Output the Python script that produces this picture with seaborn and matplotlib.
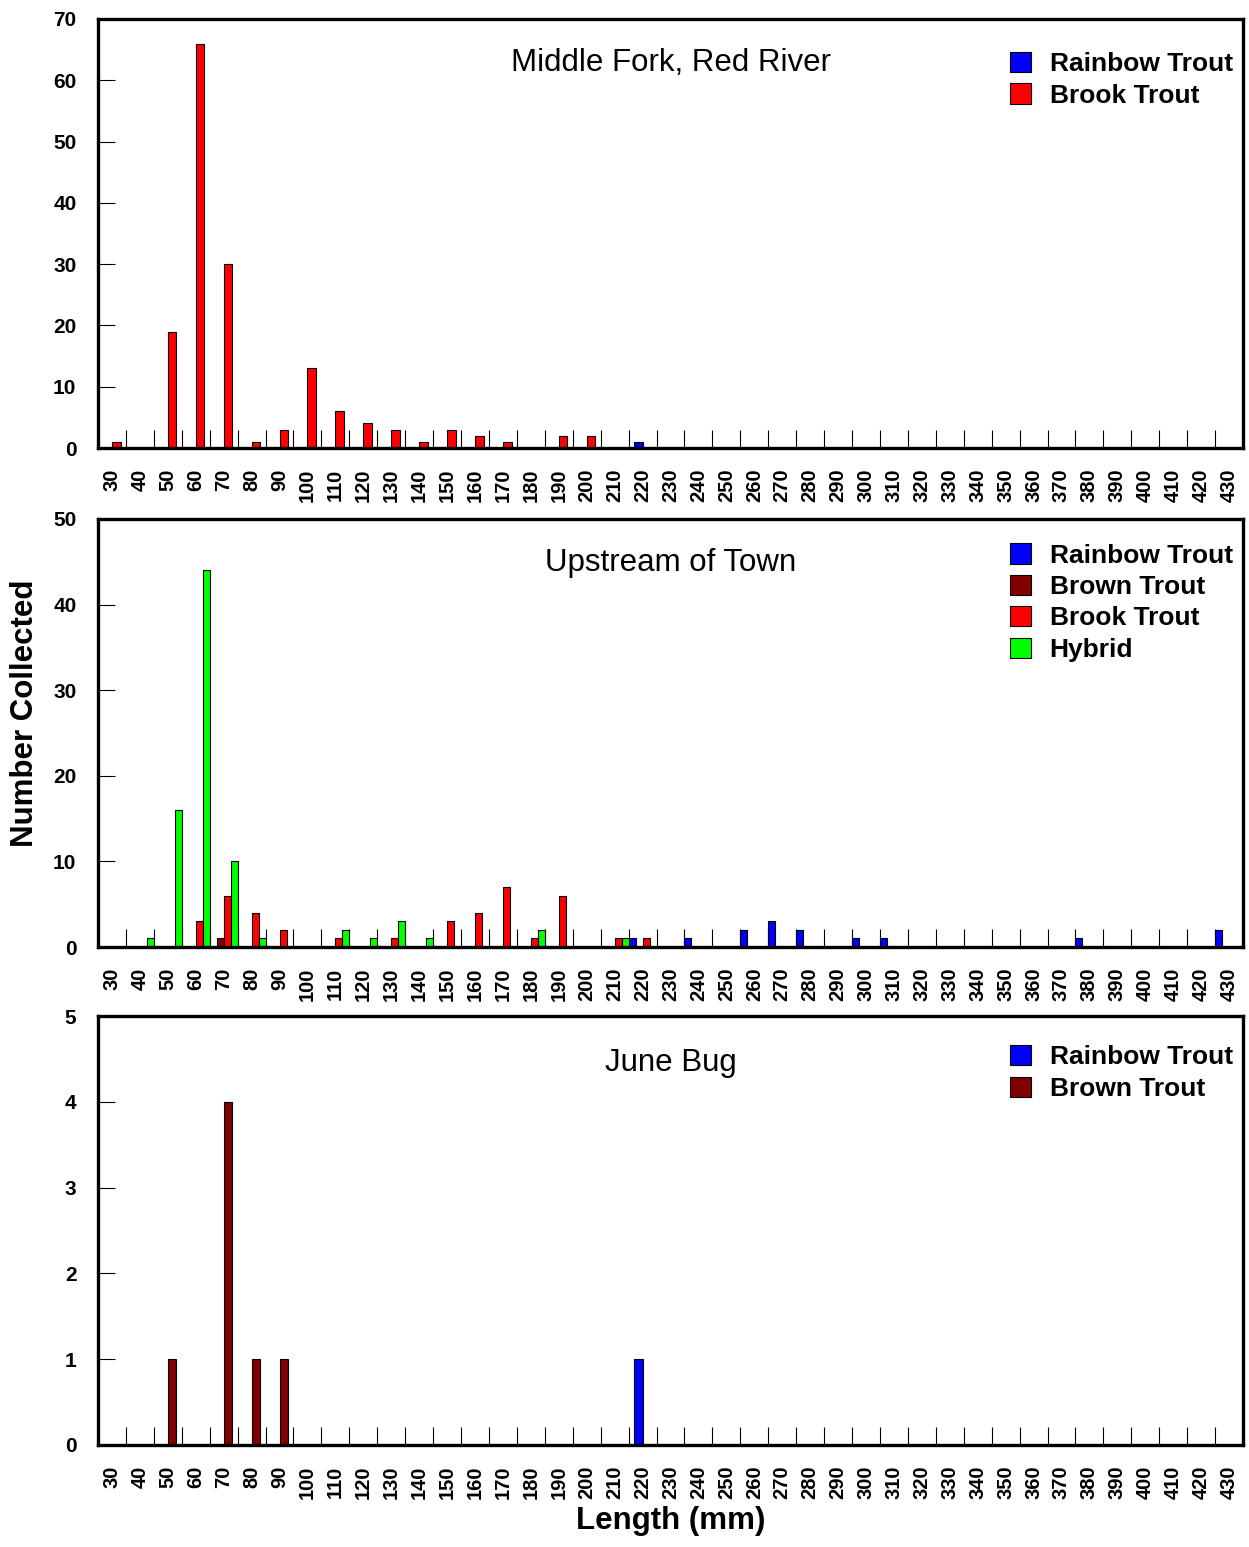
import matplotlib
matplotlib.use('Agg')
import matplotlib.pyplot as plt
from matplotlib.patches import Patch
import seaborn as sns
import pandas as pd
import numpy as np

# length classes (mm), 30 ... 430
lengths = list(range(30, 440, 10))

# Middle Fork, Red River
mf_rainbow = [0, 0, 0, 0, 0, 0, 0, 0, 0, 0,
              0, 0, 0, 0, 0, 0, 0, 0, 0, 1,
              0, 0, 0, 0, 0, 0, 0, 0, 0, 0,
              0, 0, 0, 0, 0, 0, 0, 0, 0, 0, 0]
mf_brook = [1, 0, 19, 66, 30, 1, 3, 13, 6, 4,
            3, 1, 3, 2, 1, 0, 2, 2, 0, 0,
            0, 0, 0, 0, 0, 0, 0, 0, 0, 0,
            0, 0, 0, 0, 0, 0, 0, 0, 0, 0, 0]

# Upstream of Town
ut_rainbow = [0, 0, 0, 0, 0, 0, 0, 0, 0, 0,
              0, 0, 0, 0, 0, 0, 0, 0, 0, 1,
              0, 1, 0, 2, 3, 2, 0, 1, 1, 0,
              0, 0, 0, 0, 0, 1, 0, 0, 0, 0, 2]
ut_brown = [0, 0, 0, 0, 1, 0, 0, 0, 0, 0,
            0, 0, 0, 0, 0, 0, 0, 0, 0, 0,
            0, 0, 0, 0, 0, 0, 0, 0, 0, 0,
            0, 0, 0, 0, 0, 0, 0, 0, 0, 0, 0]
ut_brook = [0, 0, 0, 3, 6, 4, 2, 0, 1, 0,
            1, 0, 3, 4, 7, 1, 6, 0, 1, 1,
            0, 0, 0, 0, 0, 0, 0, 0, 0, 0,
            0, 0, 0, 0, 0, 0, 0, 0, 0, 0, 0]
ut_hybrid = [0, 1, 16, 44, 10, 1, 0, 0, 2, 1,
             3, 1, 0, 0, 0, 2, 0, 0, 1, 0,
             0, 0, 0, 0, 0, 0, 0, 0, 0, 0,
             0, 0, 0, 0, 0, 0, 0, 0, 0, 0, 0]

# June Bug
jb_rainbow = [0, 0, 0, 0, 0, 0, 0, 0, 0, 0,
              0, 0, 0, 0, 0, 0, 0, 0, 0, 1,
              0, 0, 0, 0, 0, 0, 0, 0, 0, 0,
              0, 0, 0, 0, 0, 0, 0, 0, 0, 0, 0]
jb_brown = [0, 0, 1, 0, 4, 1, 1, 0, 0, 0,
            0, 0, 0, 0, 0, 0, 0, 0, 0, 0,
            0, 0, 0, 0, 0, 0, 0, 0, 0, 0,
            0, 0, 0, 0, 0, 0, 0, 0, 0, 0, 0]

species_colors = {'Rainbow Trout': '#0000ff', 'Brown Trout': '#800000',
                  'Brook Trout': '#ff0000', 'Hybrid': '#00ff00'}

sns.set_style('white')
plt.rcParams['font.family'] = ['Liberation Sans', 'DejaVu Sans']
plt.rcParams['text.color'] = 'black'
plt.rcParams['xtick.color'] = 'black'
plt.rcParams['ytick.color'] = 'black'


def draw_panel(ax, series, title, ymax, ystep, width, title_y, leg_y):
    frames = [pd.DataFrame({'length': lengths, 'count': v, 'species': k})
              for k, v in series.items()]
    df = pd.concat(frames, ignore_index=True)
    df = df[df['count'] > 0]
    names = list(series)
    sns.barplot(data=df, x='length', y='count', hue='species', order=lengths,
                hue_order=names, palette=species_colors, width=width, dodge=True,
                saturation=1, edgecolor='black', linewidth=0.8, legend=False, ax=ax)
    ax.set_xlim(-0.5, len(lengths) - 0.5)
    ax.set_ylim(0, ymax)
    ax.set_xlabel('')
    ax.set_ylabel('')

    ax.set_yticks(range(0, ymax + 1, ystep))
    ax.tick_params(axis='y', direction='in', length=12.5, width=0.8, pad=15.5,
                   labelsize=15, left=True)
    ax.set_xticks(range(len(lengths)), labels=[str(v) for v in lengths])
    ax.set_xticks(np.arange(0.5, len(lengths) - 1, 1), minor=True)
    ax.tick_params(axis='x', which='major', length=0, pad=15, labelsize=14.5,
                   labelrotation=90)
    ax.tick_params(axis='x', which='minor', direction='in', length=13, width=0.8,
                   bottom=True)
    for lab in ax.get_xticklabels() + ax.get_yticklabels():
        lab.set_fontweight('bold')
    for sp in ax.spines.values():
        sp.set_visible(True)
        sp.set_color('black')
        sp.set_linewidth(2.4)

    ax.text(0.5, title_y, title, transform=ax.transAxes, ha='center', va='center',
            fontsize=22.5)
    handles = [Patch(facecolor=species_colors[n], edgecolor='black', linewidth=0.8,
                     label=n) for n in names]
    ax.legend(handles=handles, loc='upper right', bbox_to_anchor=(0.991, leg_y),
              frameon=False, borderpad=0, borderaxespad=0,
              prop={'weight': 'bold', 'size': 19}, handlelength=0.8,
              handleheight=0.8, handletextpad=0.7, labelspacing=0.27)


fig = plt.figure(figsize=(12.49, 15.47), dpi=100)
left, width_f = 98 / 1249, 1145 / 1249
ax1 = fig.add_axes([left, 1 - 448 / 1547, width_f, 429 / 1547])
ax2 = fig.add_axes([left, 1 - 947 / 1547, width_f, 428 / 1547])
ax3 = fig.add_axes([left, 1 - 1445 / 1547, width_f, 429 / 1547])

draw_panel(ax1, {'Rainbow Trout': mf_rainbow, 'Brook Trout': mf_brook},
           'Middle Fork, Red River', 70, 10, 0.62, 0.897, 0.923)
draw_panel(ax2, {'Rainbow Trout': ut_rainbow, 'Brown Trout': ut_brown,
                 'Brook Trout': ut_brook, 'Hybrid': ut_hybrid},
           'Upstream of Town', 50, 10, 1.0, 0.897, 0.943)
draw_panel(ax3, {'Rainbow Trout': jb_rainbow, 'Brown Trout': jb_brown},
           'June Bug', 5, 1, 0.62, 0.890, 0.932)

fig.text(25 / 1249, 1 - 713 / 1547, 'Number Collected', rotation=90,
         ha='center', va='center', fontsize=22.5, fontweight='bold')
fig.text(671 / 1249, 1 - 1521 / 1547, 'Length (mm)', ha='center', va='center',
         fontsize=22.5, fontweight='bold')

fig.savefig('out.png', dpi=100)
